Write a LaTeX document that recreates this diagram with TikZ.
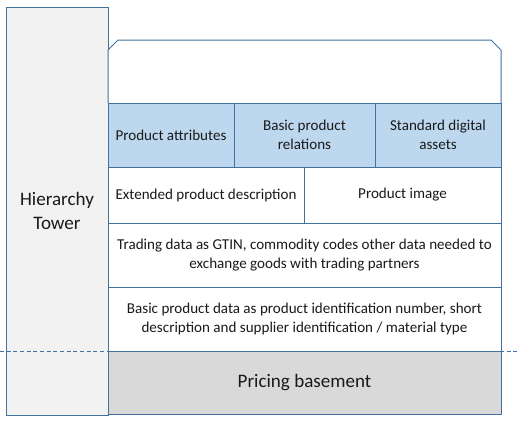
\documentclass[tikz,border=0pt]{standalone}
\usepackage{fontspec}
\setmainfont{Carlito}
\begin{document}
\begin{tikzpicture}[x=0.75pt,y=-0.75pt,
  every node/.style={inner sep=0pt, outer sep=0pt},
  cell/.style={draw=edge, line width=0.75pt, rectangle, align=center, text=txt, font=\fontsize{11.3}{13.8}\selectfont},
  blue/.style={cell, fill=bluefill},
  white/.style={cell, fill=white},
  bigtxt/.style={font=\fontsize{14.3}{18}\selectfont}
]
\definecolor{edge}{HTML}{41719C}
\definecolor{bluefill}{HTML}{BDD7EE}
\definecolor{towerfill}{HTML}{F2F2F2}
\definecolor{basefill}{HTML}{D9D9D9}
\definecolor{txt}{HTML}{1A1A1A}
\useasboundingbox (0,0) rectangle (517,426);
% tower
\node[cell, fill=towerfill, bigtxt, minimum width=76.5pt, minimum height=306pt] (tower) at (57,211) {Hierarchy\\Tower};
% top roof
\filldraw[draw=edge, fill=white, line width=0.75pt] (108,103) -- (108,50) -- (118,40) -- (491,40) -- (501,50) -- (501,103);
\node[blue, minimum width=94.5pt, minimum height=48pt] (attr) at (171,135) {Product attributes};
\node[blue, minimum width=105.75pt, minimum height=48pt] (rel) at (304.5,135) {Basic product\\relations};
\node[blue, minimum width=94.5pt, minimum height=48pt] (assets) at (438,135) {Standard digital\\assets};
\node[white, minimum width=147pt, minimum height=42pt] (ext) at (206,195) {Extended product description};
\node[white, minimum width=147.75pt, minimum height=42pt] (img) at (402.5,195) {Product image};
\node[white, minimum width=294.75pt, minimum height=48pt] (trade) at (304.5,255) {Trading data as GTIN, commodity codes other data needed to\\exchange goods with trading partners};
\node[white, minimum width=294.75pt, minimum height=48pt] (basic) at (304.5,319) {Basic product data as product identification number, short\\description and supplier identification / material type};
\node[cell, fill=basefill, bigtxt, minimum width=294.75pt, minimum height=47.25pt] (price) at (304.5,382.5) {Pricing basement};
% dashed line
\coordinate (dl) at (0,351);
\coordinate (dr) at (517,351);
\draw[edge, line width=0.6pt, dash pattern=on 3pt off 2pt] (dl) -- (dr);
\end{tikzpicture}
\end{document}
